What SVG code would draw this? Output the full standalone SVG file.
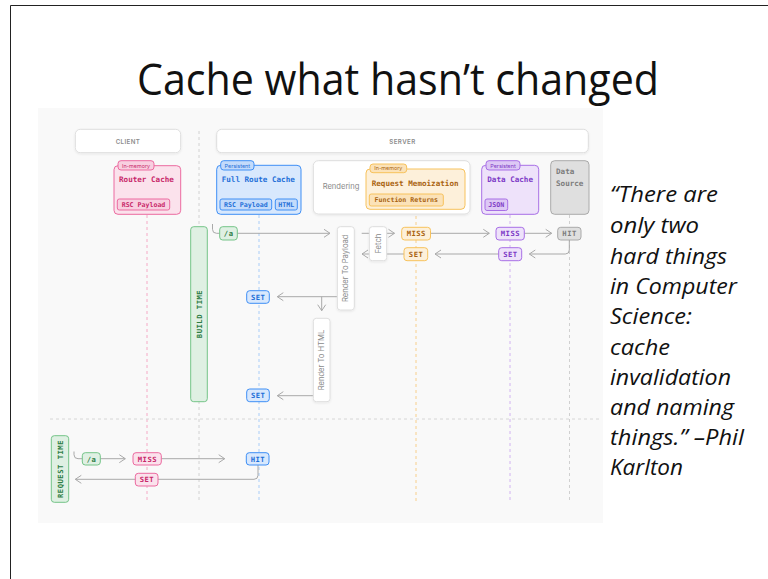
<svg xmlns="http://www.w3.org/2000/svg" width="768" height="579" viewBox="0 0 768 579">
<defs>
<style>
.bg{fill:#ffffff}
.panel{fill:#f9f9f9}
.frame{stroke:#222;stroke-width:1;fill:none}
.title{font-family:"Open Sans","Noto Sans",sans-serif;font-size:44px;fill:#111}
.quote{font-family:"Open Sans","Noto Sans",sans-serif;font-style:italic;font-size:22px;fill:#111}
.wbox{fill:#fff;stroke:#dedede;stroke-width:1}
.hdr{font-family:"Inter","Liberation Sans",sans-serif;font-size:6.2px;font-weight:600;fill:#8c8c8c;letter-spacing:0.4px}
.sans{font-family:"Inter","Liberation Sans",sans-serif;font-size:7.6px;fill:#8a8a8a}
.mono{font-family:"DejaVu Sans Mono","Liberation Mono",monospace;font-weight:bold}
.ttl{font-size:7.6px}
.sm{font-size:6.6px}
.bd{font-size:7.2px;letter-spacing:0.5px}
.tag{font-family:"Inter","Liberation Sans",sans-serif;font-size:5.4px}
.c{text-anchor:middle;dominant-baseline:central}
.pk{fill:#fbe2ec;stroke:#ec6ba0;stroke-width:1}
.pk2{fill:#f8cfe0;stroke:#ec6ba0;stroke-width:1}
.pkt{fill:#c8286a}
.bl{fill:#d8e8fd;stroke:#3f8ff5;stroke-width:1}
.bl2{fill:#c3dbfb;stroke:#3f8ff5;stroke-width:1}
.blt{fill:#1e6fd8}
.or{fill:#fdf0da;stroke:#f7c25c;stroke-width:1}
.or2{fill:#fbe2b8;stroke:#f7c25c;stroke-width:1}
.ort{fill:#a9630f}
.pu{fill:#eee2fa;stroke:#a86fe6;stroke-width:1}
.pu2{fill:#ddc8f5;stroke:#a86fe6;stroke-width:1}
.put{fill:#7d3ac6}
.gy{fill:#dfdfdf;stroke:#aaaaaa;stroke-width:1}
.gyt{fill:#7c7c7c}
.gr{fill:#dff0e3;stroke:#74c488;stroke-width:1}
.grt{fill:#2e7d45}
.life{stroke-width:1;stroke-dasharray:3 3;fill:none}
.conn{stroke:#a9a9a9;stroke-width:1;fill:none}
</style>
<marker id="arr" viewBox="0 0 8 10" refX="7" refY="5" markerWidth="8" markerHeight="10" markerUnits="userSpaceOnUse" orient="auto">
<path d="M1,1 L7,5 L1,9" fill="none" stroke="#a9a9a9" stroke-width="1"/>
</marker>
<filter id="sh" x="-20%" y="-20%" width="140%" height="140%">
<feDropShadow dx="0" dy="1" stdDeviation="1.2" flood-color="#000" flood-opacity="0.08"/>
</filter>
</defs>
<rect class="bg" x="0" y="0" width="768" height="579"/>
<path class="frame" d="M10.5,579 V5.5 H768"/>
<text class="title" x="137" y="95" textLength="522" lengthAdjust="spacingAndGlyphs">Cache what hasn’t changed</text>
<rect class="panel" x="38" y="108" width="565" height="415"/>

<g id="lifelines">
<path class="life" stroke="#d2d2d2" d="M199,131 V501"/>
<path class="life" stroke="#f5aac6" d="M147,215 V501"/>
<path class="life" stroke="#a9cdf8" d="M259,215 V501"/>
<path class="life" stroke="#f8cf8c" d="M416,210 V501"/>
<path class="life" stroke="#d2b4f1" d="M510,215 V501"/>
<path class="life" stroke="#d0d0d0" d="M569.5,215 V501"/>
<path class="life" stroke="#d6d6d6" d="M50,419 H600"/>
</g>

<g id="connectors">
<path class="conn" d="M212.5,224 V229.3 Q212.5,233.3 216.5,233.3 H219.7"/>
<path class="conn" marker-end="url(#arr)" d="M237.3,233.3 H330"/>
<path class="conn" marker-end="url(#arr)" d="M361.7,233.3 H394.5"/>
<path class="conn" marker-end="url(#arr)" d="M404,254 H362"/>
<path class="conn" marker-end="url(#arr)" d="M430.7,233.3 H489.3"/>
<path class="conn" marker-end="url(#arr)" d="M524.3,233.3 H551.7"/>
<path class="conn" marker-end="url(#arr)" d="M569.3,240 V250 Q569.3,254 565.3,254 H529.3"/>
<path class="conn" marker-end="url(#arr)" d="M498.7,254 H435"/>
<path class="conn" marker-end="url(#arr)" d="M337.3,296.7 H277.3"/>
<path class="conn" marker-end="url(#arr)" d="M321.7,296.7 V310.7"/>
<path class="conn" marker-end="url(#arr)" d="M313.3,395.7 H277.3"/>
<path class="conn" d="M74,451.5 V454.7 Q74,458.7 78,458.7 H82.3"/>
<path class="conn" marker-end="url(#arr)" d="M100.3,458.7 H125.3"/>
<path class="conn" marker-end="url(#arr)" d="M161.3,458.7 H224.7"/>
<path class="conn" marker-end="url(#arr)" d="M258,465 V475.3 Q258,479.3 254,479.3 H75.3"/>
</g>

<g id="client-header">
<rect class="wbox" filter="url(#sh)" x="75.3" y="129.3" width="105.4" height="23.4" rx="5"/>
<text class="hdr c" x="128" y="141">CLIENT</text>
</g>
<g id="server-header">
<rect class="wbox" filter="url(#sh)" x="216.7" y="129.3" width="371.6" height="23.4" rx="5"/>
<text class="hdr c" x="402.5" y="141">SERVER</text>
</g>

<g id="router-cache">
<rect class="pk" x="114" y="165.7" width="66.7" height="48.6" rx="4"/>
<rect class="pk2" x="118" y="160.7" width="36" height="9.3" rx="3"/>
<text class="tag pkt c" x="136" y="165.5">In-memory</text>
<text class="mono ttl pkt" x="119" y="182">Router Cache</text>
<rect class="pk2" x="117.3" y="199" width="52.4" height="11" rx="2"/>
<text class="mono sm pkt c" x="143.5" y="204.7">RSC Payload</text>
</g>

<g id="full-route-cache">
<rect class="bl" x="216.7" y="165.3" width="84.3" height="49" rx="4"/>
<rect class="bl2" x="220.7" y="160.7" width="33.3" height="9.3" rx="3"/>
<text class="tag blt c" x="237.3" y="165.5">Persistent</text>
<text class="mono ttl blt" x="221.7" y="182">Full Route Cache</text>
<rect class="bl2" x="220" y="199" width="51.7" height="11" rx="2"/>
<text class="mono sm blt c" x="245.8" y="204.7">RSC Payload</text>
<rect class="bl2" x="275.3" y="199" width="22" height="11" rx="2"/>
<text class="mono sm blt c" x="286.3" y="204.7">HTML</text>
</g>

<g id="rendering">
<rect class="wbox" filter="url(#sh)" x="313.3" y="160.7" width="156.7" height="53.3" rx="5"/>
<text class="sans c" x="341" y="186.5">Rendering</text>
</g>

<g id="request-memoization">
<rect class="or" x="366" y="169" width="99" height="40.3" rx="4"/>
<rect class="or2" x="370" y="164" width="36.7" height="8.7" rx="3"/>
<text class="tag ort c" x="388.3" y="168.4">In-memory</text>
<text class="mono ttl ort" x="371.7" y="185.5">Request Memoization</text>
<rect class="or2" x="369.3" y="194" width="74" height="12" rx="2"/>
<text class="mono sm ort c" x="406.3" y="200.2">Function Returns</text>
</g>

<g id="data-cache">
<rect class="pu" x="481.7" y="165.3" width="57" height="49" rx="4"/>
<rect class="pu2" x="486" y="160.7" width="34" height="9.3" rx="3"/>
<text class="tag put c" x="503" y="165.5">Persistent</text>
<text class="mono ttl put" x="487.3" y="182">Data Cache</text>
<rect class="pu2" x="485" y="199" width="22.7" height="11.5" rx="2"/>
<text class="mono sm put c" x="496.3" y="204.9">JSON</text>
</g>

<g id="data-source">
<rect class="gy" x="550.7" y="160.7" width="38.3" height="53.6" rx="4"/>
<text class="mono ttl gyt" x="556" y="173.5">Data</text>
<text class="mono ttl gyt" x="556" y="185.5">Source</text>
</g>

<g id="build-time">
<rect class="gr" x="190.7" y="226.7" width="16.6" height="175" rx="3"/>
<text class="mono bd grt c" transform="translate(199,314) rotate(-90)" x="0" y="0">BUILD TIME</text>
</g>

<g id="build-a">
<rect class="gr" x="219.7" y="226.7" width="17.6" height="13.3" rx="3"/>
<text class="mono bd grt c" x="228.7" y="233.5">/a</text>
</g>

<g id="render-to-payload">
<rect class="wbox" filter="url(#sh)" x="337.3" y="226.7" width="17" height="83.3" rx="3"/>
<text class="sans c" transform="translate(345.8,268.3) rotate(-90)" x="0" y="0">Render To Payload</text>
</g>

<g id="fetch">
<rect class="wbox" filter="url(#sh)" x="369.3" y="226.7" width="17.4" height="34" rx="3"/>
<text class="sans c" transform="translate(378,243.7) rotate(-90)" x="0" y="0">Fetch</text>
</g>

<g id="render-to-html">
<rect class="wbox" filter="url(#sh)" x="313.3" y="318.3" width="16.7" height="83.4" rx="3"/>
<text class="sans c" transform="translate(321.7,360) rotate(-90)" x="0" y="0">Render To HTML</text>
</g>

<g id="memo-miss">
<rect class="or" x="401.7" y="227.3" width="28.8" height="12.7" rx="3"/>
<text class="mono bd ort c" x="416.3" y="233.7">MISS</text>
</g>
<g id="memo-set">
<rect class="or" x="404" y="247.7" width="23.7" height="13" rx="3"/>
<text class="mono bd ort c" x="416.1" y="254.2">SET</text>
</g>
<g id="data-miss">
<rect class="pu" x="496" y="227.3" width="28.3" height="12.7" rx="3"/>
<text class="mono bd put c" x="510.4" y="233.7">MISS</text>
</g>
<g id="data-set">
<rect class="pu" x="498.7" y="247.7" width="23" height="13" rx="3"/>
<text class="mono bd put c" x="510.4" y="254.2">SET</text>
</g>
<g id="source-hit">
<rect class="gy" x="557.7" y="227.3" width="23.3" height="12.7" rx="3"/>
<text class="mono bd gyt c" x="569.6" y="233.7">HIT</text>
</g>
<g id="route-set-1">
<rect class="bl" x="246.7" y="290.7" width="22.6" height="12.6" rx="3"/>
<text class="mono bd blt c" x="258.2" y="297">SET</text>
</g>
<g id="route-set-2">
<rect class="bl" x="246.7" y="389" width="22.6" height="12.7" rx="3"/>
<text class="mono bd blt c" x="258.2" y="395.4">SET</text>
</g>

<g id="request-time">
<rect class="gr" x="51.3" y="435.7" width="17.4" height="66.6" rx="3"/>
<text class="mono bd grt c" transform="translate(60,469) rotate(-90)" x="0" y="0">REQUEST TIME</text>
</g>
<g id="request-a">
<rect class="gr" x="82.3" y="452.7" width="18" height="12.3" rx="3"/>
<text class="mono bd grt c" x="91.5" y="459">/a</text>
</g>
<g id="router-miss">
<rect class="pk" x="133" y="452.7" width="28.3" height="12.3" rx="3"/>
<text class="mono bd pkt c" x="147.4" y="459">MISS</text>
</g>
<g id="route-hit">
<rect class="bl" x="246.3" y="452.7" width="22.7" height="12.3" rx="3"/>
<text class="mono bd blt c" x="257.9" y="459">HIT</text>
</g>
<g id="router-set">
<rect class="pk" x="135.3" y="473.3" width="22.7" height="12.7" rx="3"/>
<text class="mono bd pkt c" x="146.9" y="479.7">SET</text>
</g>

<g id="quote">
<text class="quote" x="610" y="202" textLength="108" lengthAdjust="spacingAndGlyphs">“There are</text>
<text class="quote" x="610" y="233" textLength="89" lengthAdjust="spacingAndGlyphs">only two</text>
<text class="quote" x="610" y="264" textLength="117" lengthAdjust="spacingAndGlyphs">hard things</text>
<text class="quote" x="610" y="294" textLength="127" lengthAdjust="spacingAndGlyphs">in Computer</text>
<text class="quote" x="610" y="324" textLength="82" lengthAdjust="spacingAndGlyphs">Science:</text>
<text class="quote" x="610" y="355" textLength="60" lengthAdjust="spacingAndGlyphs">cache</text>
<text class="quote" x="610" y="385" textLength="121" lengthAdjust="spacingAndGlyphs">invalidation</text>
<text class="quote" x="610" y="415" textLength="124" lengthAdjust="spacingAndGlyphs">and naming</text>
<text class="quote" x="610" y="445" textLength="134" lengthAdjust="spacingAndGlyphs">things.” –Phil</text>
<text class="quote" x="610" y="475" textLength="73" lengthAdjust="spacingAndGlyphs">Karlton</text>
</g>
</svg>
